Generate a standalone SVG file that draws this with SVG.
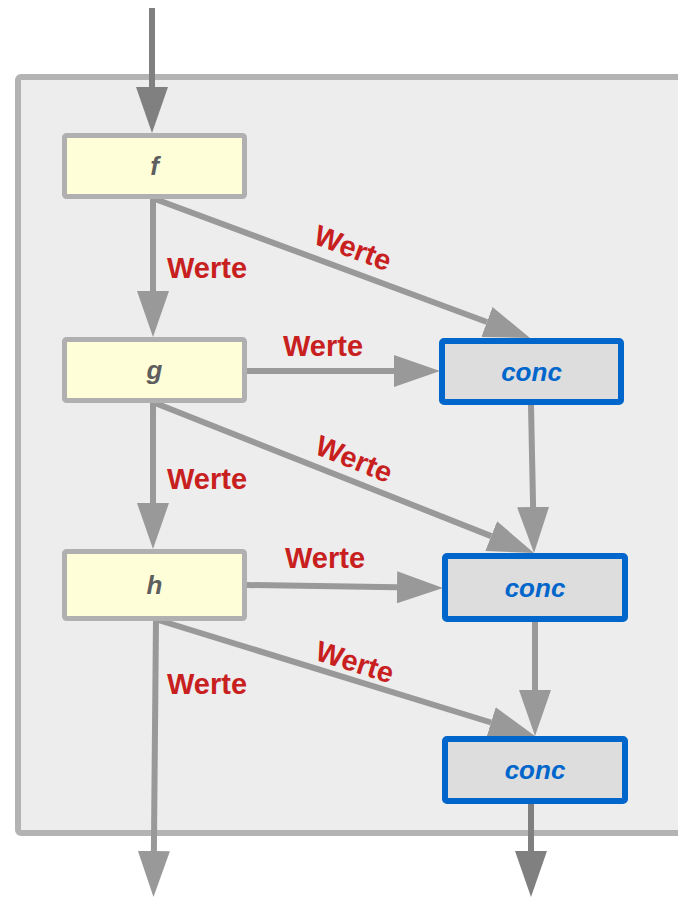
<svg xmlns="http://www.w3.org/2000/svg" width="678" height="897" viewBox="0 0 678 897">
<style>
.frame{fill:#ededed;stroke:#b3b3b3;stroke-width:6}
.fn rect{fill:#fefed8;stroke:#b0b0b0;stroke-width:5}
.fn text{font-family:"Liberation Sans",Arial,sans-serif;font-weight:bold;font-style:italic;font-size:26px;fill:#5e5e5e;text-anchor:middle}
.cc rect{fill:#dddddd;stroke:#0066cc;stroke-width:6}
.cc text{font-family:"Liberation Sans",Arial,sans-serif;font-weight:bold;font-style:italic;font-size:26px;fill:#0066cc;text-anchor:middle}
.e{fill:none;stroke:#999999;stroke-width:6;marker-end:url(#ah)}
.ed{fill:none;stroke:#808080;stroke-width:6;marker-end:url(#ahd)}
.lbl{font-family:"Liberation Sans",Arial,sans-serif;font-weight:bold;font-size:29px;fill:#c8201e}
.lblc{font-family:"Liberation Sans",Arial,sans-serif;font-weight:bold;font-size:29px;fill:#c8201e;text-anchor:middle}
</style>
<defs>
<marker id="ah" markerUnits="userSpaceOnUse" markerWidth="46" markerHeight="32" refX="0" refY="16" orient="auto" viewBox="0 0 46 32"><path d="M0,0 L46,16 L0,32 z" fill="#999999"/></marker>
<marker id="ahd" markerUnits="userSpaceOnUse" markerWidth="46" markerHeight="32" refX="0" refY="16" orient="auto" viewBox="0 0 46 32"><path d="M0,0 L46,16 L0,32 z" fill="#808080"/></marker>
</defs>
<rect class="frame" x="18" y="77" width="700" height="756" rx="3"/>
<g id="edges">
<path class="ed" d="M152,8 L152,87"/>
<path class="e" d="M153,199 L153,291"/>
<path class="e" d="M153,403 L153,503"/>
<path class="e" d="M155,199 L486.9,322"/>
<path class="e" d="M247,371 L394,371"/>
<path class="e" d="M531,405 L533.1,507"/>
<path class="e" d="M155,403 L491.2,536.1"/>
<path class="e" d="M247,585 L397,587.3"/>
<path class="e" d="M535,622 L535,690"/>
<path class="e" d="M155,619 L491,722.5"/>
<path class="e" d="M156,619 L153.9,851"/>
<path class="ed" d="M531,804 L531,851"/>
</g>
<g id="labels">
<text class="lbl" x="167" y="278">Werte</text>
<text class="lblc" transform="translate(353,248) rotate(20.5)" y="10">Werte</text>
<text class="lbl" x="283" y="356">Werte</text>
<text class="lblc" transform="translate(354,459) rotate(22)" y="10">Werte</text>
<text class="lbl" x="167" y="489">Werte</text>
<text class="lbl" x="285" y="568">Werte</text>
<text class="lblc" transform="translate(355,662) rotate(17.4)" y="10">Werte</text>
<text class="lbl" x="167" y="694">Werte</text>
</g>
<g id="f" class="fn"><rect x="64.5" y="135.5" width="180" height="61" rx="2"/><text x="154.5" y="175">f</text></g>
<g id="g" class="fn"><rect x="64.5" y="339.5" width="180" height="61" rx="2"/><text x="154.5" y="379">g</text></g>
<g id="h" class="fn"><rect x="64.5" y="551.5" width="180" height="67" rx="2"/><text x="154.5" y="594">h</text></g>
<g id="conc1" class="cc"><rect x="442" y="341" width="179" height="61" rx="2"/><text x="531.5" y="381">conc</text></g>
<g id="conc2" class="cc"><rect x="445" y="556" width="180" height="63" rx="2"/><text x="535" y="597">conc</text></g>
<g id="conc3" class="cc"><rect x="445" y="739" width="180" height="62" rx="2"/><text x="535" y="779">conc</text></g>
</svg>
